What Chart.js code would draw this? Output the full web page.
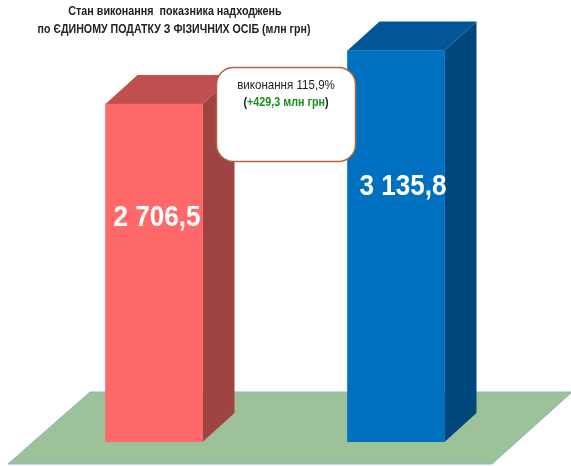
<!DOCTYPE html>
<html lang="uk">
<head>
<meta charset="utf-8">
<style>
	html, body { margin: 0; padding: 0; background: #fff; }
	#wrap { position: relative; width: 571px; height: 466px; }
</style>
<script src="https://cdn.jsdelivr.net/npm/chart.js@4/dist/chart.umd.min.js"></script>
</head>
<body>
<div id="wrap"><canvas id="myChart" width="571" height="466"></canvas></div>
<script>
const categories = ['План', 'Факт'];
const values = [2706.5, 3135.8];
const valueLabels = ['2 706,5', '3 135,8'];
const titleLines = ['Стан виконання  показника надходжень', 'по ЄДИНОМУ ПОДАТКУ З ФІЗИЧНИХ ОСІБ (млн грн)'];
const noteLine1 = 'виконання 115,9%';
const noteLine2 = ['(', '+429,3 млн грн', ')'];

const frontColors = ['#ff6969', '#0070c0'];
const topColors = ['#c0504f', '#005696'];
const sideColors = ['#a04343', '#00487c'];

const textFont = '"Liberation Sans", sans-serif';
const depthX = 32;
const depthY = 29;

function Polygon(c, dots, fill, stroke) {
	c.beginPath();
	dots.forEach((dot, i) => (i ? c.lineTo(dot[0], dot[1]) : c.moveTo(dot[0], dot[1])));
	c.closePath();
	c.fillStyle = fill;
	c.fill();
	if (stroke) {
		c.strokeStyle = stroke;
		c.lineWidth = 1;
		c.stroke();
	}
}

// Узкого шрифта нет, поэтому сжимаем текст по горизонтали.
function NarrowText(c, text, x, y, squeeze) {
	c.save();
	c.translate(x, y);
	c.scale(squeeze, 1);
	c.fillText(text, 0, 0);
	c.restore();
}

// Пол и объём столбцов рисуем до самих столбцов, подпись и выноску - после.
const box3d = {
	id: 'box3d',
	beforeDatasetsDraw(chart) {
		const c = chart.ctx;
		const bars = chart.getDatasetMeta(0).data;
		const base = bars[0].base;

		c.save();
		Polygon(c, [
			[bars[0].x - 146, base + 22],
			[bars[0].x - 64, base - 50],
			[chart.width + 1, base - 50],
			[bars[1].x + 96, base + 22]
		], '#9dc29a', '#8fb2c4');

		bars.forEach((bar, i) => {
			const left = bar.x - bar.width / 2;
			const right = bar.x + bar.width / 2;
			Polygon(c, [
				[left, bar.y],
				[right, bar.y],
				[right + depthX, bar.y - depthY],
				[left + depthX, bar.y - depthY]
			], topColors[i]);
			Polygon(c, [
				[right, bar.y],
				[right + depthX, bar.y - depthY],
				[right + depthX, bar.base - depthY],
				[right, bar.base]
			], sideColors[i]);
		});
		c.restore();
	},
	afterDatasetsDraw(chart) {
		const c = chart.ctx;
		const bars = chart.getDatasetMeta(0).data;

		c.save();
		c.textBaseline = 'middle';
		c.textAlign = 'center';

		c.fillStyle = '#fff';
		c.font = 'bold 30px ' + textFont;
		NarrowText(c, valueLabels[0], bars[0].x + 3, bars[0].y + 114, 0.87);
		NarrowText(c, valueLabels[1], bars[1].x + 7, bars[1].y + 136, 0.87);

		// Выноска между столбцами
		c.beginPath();
		c.roundRect(216.5, 67.5, 139, 94, 17);
		c.fillStyle = '#fff';
		c.fill();
		c.strokeStyle = '#b5643c';
		c.lineWidth = 1.5;
		c.stroke();

		c.fillStyle = '#222';
		c.font = '13px ' + textFont;
		NarrowText(c, noteLine1, 286, 85, 0.89);

		c.font = 'bold 12.5px ' + textFont;
		const squeeze = 0.86;
		const widths = noteLine2.map(part => c.measureText(part).width * squeeze);
		let x = 286 - (widths[0] + widths[1] + widths[2]) / 2;
		c.textAlign = 'left';
		noteLine2.forEach((part, i) => {
			c.fillStyle = i === 1 ? '#1a8f1a' : '#222';
			NarrowText(c, part, x, 103, squeeze);
			x += widths[i];
		});

		c.textAlign = 'center';
		c.fillStyle = '#222';
		c.font = 'bold 12.5px ' + textFont;
		NarrowText(c, titleLines[0], 175, 12, 0.86);
		NarrowText(c, titleLines[1], 174, 30, 0.85);
		c.restore();
	}
};

const ctx = document.getElementById('myChart').getContext('2d');

const chart = new Chart(ctx, {
	type: 'bar',
	data: {
		labels: categories,
		datasets: [
			{
				data: values,
				backgroundColor: frontColors,
				borderWidth: 0,
				barThickness: 97
			}
		]
	},
	options: {
		responsive: false,
		animation: false,
		layout: { padding: { left: 33, right: 54, top: 5, bottom: 24 } },
		plugins: {
			legend: { display: false },
			tooltip: { enabled: false }
		},
		scales: {
			x: { display: false },
			y: { display: false, min: 0, max: 3500 }
		}
	},
	plugins: [box3d]
});
</script>
</body>
</html>
